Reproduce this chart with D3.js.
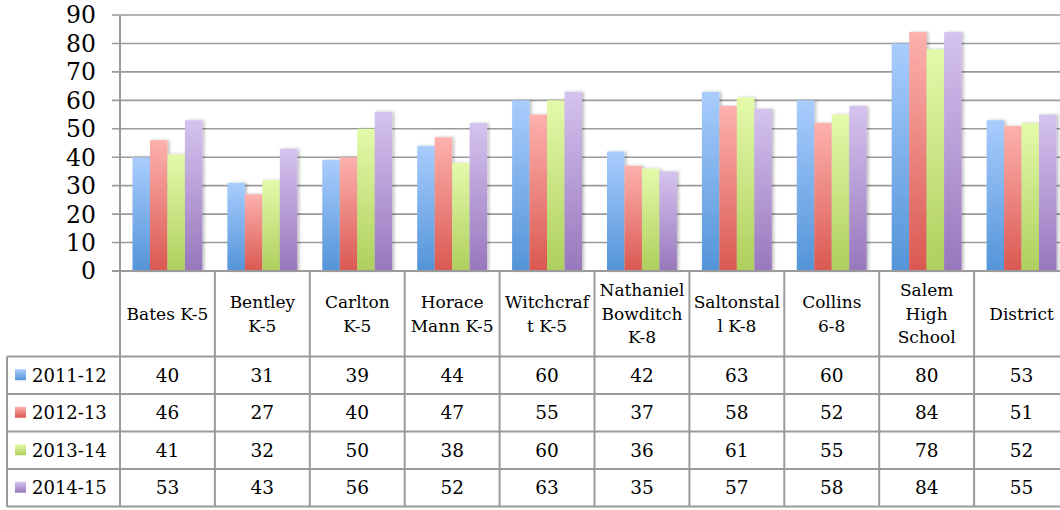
<!DOCTYPE html>
<html><head><meta charset="utf-8">
<script src="https://cdn.jsdelivr.net/npm/d3@7"></script>
<style>body{margin:0;background:#fff}svg{display:block}text{font-family:"DejaVu Serif",serif}</style>
</head><body>
<svg id="c" width="1060" height="510"></svg>
<script>
const categories = ["Bates K-5","Bentley K-5","Carlton K-5","Horace Mann K-5","Witchcraft K-5","Nathaniel Bowditch K-8","Saltonstall K-8","Collins 6-8","Salem High School","District"];
const categoryLines = [["Bates K-5"],["Bentley","K-5"],["Carlton","K-5"],["Horace","Mann K-5"],["Witchcraf","t K-5"],["Nathaniel","Bowditch","K-8"],["Saltonstal","l K-8"],["Collins","6-8"],["Salem","High","School"],["District"]];
const seriesNames = ["2011-12","2012-13","2013-14","2014-15"];
const s2011 = [40,31,39,44,60,42,63,60,80,53];
const s2012 = [46,27,40,47,55,37,58,52,84,51];
const s2013 = [41,32,50,38,60,36,61,55,78,52];
const s2014 = [53,43,56,52,63,35,57,58,84,55];
const yTicks = [0,10,20,30,40,50,60,70,80,90];

(function(){
const series = [s2011,s2012,s2013,s2014];
const colors = [["#a9cdfd","#5394d8"],["#fdb1ad","#da5851"],["#e4faab","#aecf5c"],["#d5c3ef","#9877bc"]];

const svg = d3.select("#c");
const defs = svg.append("defs");
colors.forEach((c,i)=>{
  const g = defs.append("linearGradient").attr("id","g"+i).attr("x1",0).attr("y1",0).attr("x2",0).attr("y2",1);
  g.append("stop").attr("offset","0%").attr("stop-color",c[0]);
  g.append("stop").attr("offset","100%").attr("stop-color",c[1]);
});
const f = defs.append("filter").attr("id","sh").attr("x","-20%").attr("y","-5%").attr("width","150%").attr("height","110%");
f.append("feDropShadow").attr("dx",2).attr("dy",0).attr("stdDeviation",1.5).attr("flood-color","#000").attr("flood-opacity",0.25);

const pLeft = 120, pRight = 1069, pTop = 15, pBottom = 271;
const x = d3.scaleBand().domain(categories).range([pLeft,pRight]);
const xs = d3.scaleBand().domain(seriesNames).range([12.5, x.bandwidth()-12.5]);
const y = d3.scaleLinear().domain([0,90]).range([pBottom, pTop]);

const lineColor = "#9a9a9a";
svg.append("g").selectAll("line").data(yTicks).join("line")
  .attr("x1",112).attr("x2",pRight).attr("y1",d=>y(d)).attr("y2",d=>y(d))
  .attr("stroke",lineColor).attr("stroke-width",1.6);
svg.append("g").selectAll("text").data(yTicks).join("text")
  .attr("x",96).attr("y",d=>y(d)).attr("dy","0.36em").attr("text-anchor","end")
  .attr("font-size",23.5).attr("fill","#000").text(d=>d);

const gb = svg.append("g");
categories.forEach((cat,ci)=>{
  series.forEach((s,si)=>{
    gb.append("rect")
      .attr("x",x(cat)+xs(seriesNames[si])).attr("width",xs.bandwidth())
      .attr("y",y(s[ci])).attr("height",y(0)-y(s[ci]))
      .attr("fill","url(#g"+si+")").attr("filter","url(#sh)");
  });
});

const t = svg.append("g").attr("stroke",lineColor).attr("stroke-width",2);
const rowTop = 356.5, rowH = 37.5;
const rows = [0,1,2,3,4].map(i=>rowTop+i*rowH);
t.append("line").attr("x1",pLeft).attr("x2",pLeft).attr("y1",pTop).attr("y2",rows[4]);
t.selectAll(".v").data(categories.slice(1)).join("line")
  .attr("x1",d=>x(d)).attr("x2",d=>x(d)).attr("y1",pBottom).attr("y2",rows[4]);
t.append("line").attr("x1",pRight).attr("x2",pRight).attr("y1",pBottom).attr("y2",rows[4]);
t.selectAll(".h").data(rows).join("line")
  .attr("x1",7).attr("x2",pRight).attr("y1",d=>d).attr("y2",d=>d);
t.append("line").attr("x1",7).attr("x2",7).attr("y1",rows[0]).attr("y2",rows[4]);
t.append("line").attr("x1",112).attr("x2",pRight).attr("y1",pBottom).attr("y2",pBottom);

const lh = 23.5;
const hc = (pBottom+rows[0])/2;
const fs = 17;
categoryLines.forEach((lines,ci)=>{
  const cx = x(categories[ci]) + x.bandwidth()/2;
  const y0 = hc - (lines.length-1)*lh/2;
  lines.forEach((ln,li)=>{
    svg.append("text").attr("x",cx).attr("y",y0+li*lh).attr("dy","0.36em")
      .attr("text-anchor","middle").attr("font-size",fs).attr("fill","#000").text(ln);
  });
});

series.forEach((s,si)=>{
  const cy = rows[si] + rowH/2;
  svg.append("rect").attr("x",15).attr("y",cy-6).attr("width",11).attr("height",11).attr("fill","url(#g"+si+")");
  svg.append("text").attr("x",32).attr("y",cy).attr("dy","0.36em")
    .attr("font-size",18).attr("fill","#000").text(seriesNames[si]);
  categories.forEach((cat,ci)=>{
    svg.append("text").attr("x",x(cat)+x.bandwidth()/2).attr("y",cy).attr("dy","0.36em")
      .attr("text-anchor","middle").attr("font-size",18.5).attr("fill","#000").text(s[ci]);
  });
});
})();
</script>
</body></html>
